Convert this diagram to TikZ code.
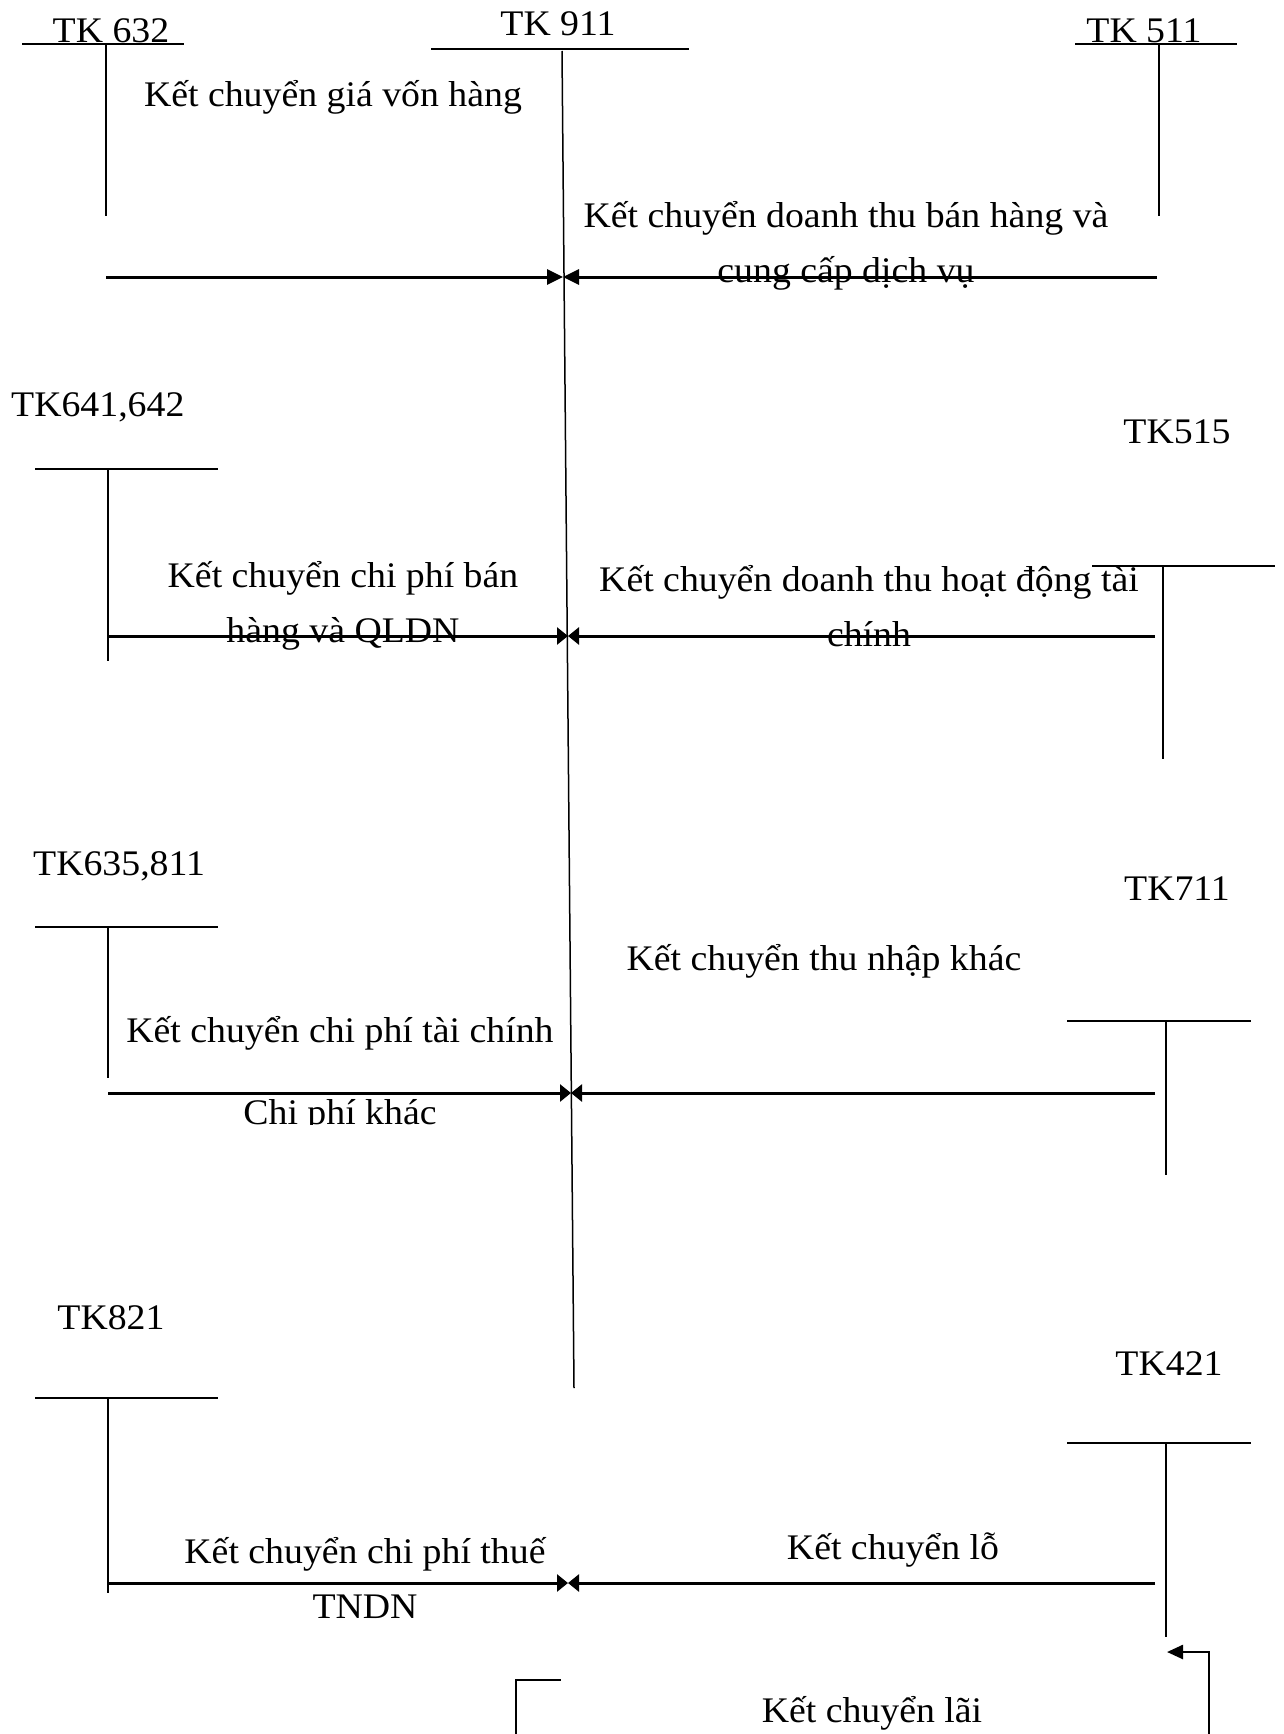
\documentclass[tikz,border=0pt]{standalone}
\usepackage{fontspec}
\setmainfont[FakeStretch=1.05]{Liberation Serif}
\usetikzlibrary{arrows.meta}
\begin{document}
\begin{tikzpicture}[x=1pt,y=-1pt,
  lbl/.style={inner sep=0pt, font=\fontsize{36}{55}\selectfont, align=center},
  acct/.style={line width=2.5pt},
  stem/.style={line width=1.5pt},
  flowbig/.style={line width=3pt,-{Triangle[length=16pt,width=15pt]}},
  flowsmall/.style={line width=3pt,-{Triangle[length=11pt,width=17pt]}},
]
\useasboundingbox[fill=white] (0,0) rectangle (1284,1734);

% ---- account T shapes ----
% TK 632
\node[lbl] (n632) at (111,31) {TK 632};
\coordinate (a632l) at (22,44); \coordinate (a632r) at (184,44);
\coordinate (s632t) at (106,44); \coordinate (s632b) at (106,216);
\draw[acct] (a632l) -- (a632r);
\draw[stem] (s632t) -- (s632b);
% TK 911
\node[lbl] (n911) at (558,24) {TK 911};
\coordinate (a911l) at (431,49); \coordinate (a911r) at (689,49);
\coordinate (s911t) at (562,51); \coordinate (s911b) at (574,1388);
\draw[acct] (a911l) -- (a911r);
\draw[stem] (s911t) -- (s911b);
% TK 511
\node[lbl] (n511) at (1144,31) {TK 511};
\coordinate (a511l) at (1075,44); \coordinate (a511r) at (1237,44);
\coordinate (s511t) at (1159,44); \coordinate (s511b) at (1159,216);
\draw[acct] (a511l) -- (a511r);
\draw[stem] (s511t) -- (s511b);
% TK641,642
\node[lbl,anchor=west] (n641) at (11,407) {TK641,642};
\coordinate (a641l) at (35,469); \coordinate (a641r) at (218,469);
\coordinate (s641t) at (108,469); \coordinate (s641b) at (108,661);
\draw[acct] (a641l) -- (a641r);
\draw[stem] (s641t) -- (s641b);
% TK515
\node[lbl] (n515) at (1177,432) {TK515};
\coordinate (a515l) at (1092,566); \coordinate (a515r) at (1275,566);
\coordinate (s515t) at (1163,566); \coordinate (s515b) at (1163,759);
\draw[acct] (a515l) -- (a515r);
\draw[stem] (s515t) -- (s515b);
% TK635,811
\node[lbl,anchor=west] (n635) at (33,866) {TK635,811};
\coordinate (a635l) at (35,927); \coordinate (a635r) at (218,927);
\coordinate (s635t) at (108,927); \coordinate (s635b) at (108,1078);
\draw[acct] (a635l) -- (a635r);
\draw[stem] (s635t) -- (s635b);
% TK711
\node[lbl] (n711) at (1177,889) {TK711};
\coordinate (a711l) at (1067,1021); \coordinate (a711r) at (1251,1021);
\coordinate (s711t) at (1166,1021); \coordinate (s711b) at (1166,1175);
\draw[acct] (a711l) -- (a711r);
\draw[stem] (s711t) -- (s711b);
% TK821
\node[lbl] (n821) at (111,1318) {TK821};
\coordinate (a821l) at (35,1398); \coordinate (a821r) at (218,1398);
\coordinate (s821t) at (108,1398); \coordinate (s821b) at (108,1593);
\draw[acct] (a821l) -- (a821r);
\draw[stem] (s821t) -- (s821b);
% TK421
\node[lbl] (n421) at (1169,1364) {TK421};
\coordinate (a421l) at (1067,1443); \coordinate (a421r) at (1251,1443);
\coordinate (s421t) at (1166,1443); \coordinate (s421b) at (1166,1637);
\draw[acct] (a421l) -- (a421r);
\draw[stem] (s421t) -- (s421b);

% ---- labels ----
\node[lbl] (t1) at (333,97) {Kết chuyển giá vốn hàng};
\node[lbl] (t2) at (846,246) {Kết chuyển doanh thu bán hàng và\\cung cấp dịch vụ};
\node[lbl] (t3) at (343,606) {Kết chuyển chi phí bán\\hàng và QLDN};
\node[lbl] (t4) at (869,606) {Kết chuyển doanh thu hoạt động tài\\chính};
\node[lbl] (t5) at (824,961) {Kết chuyển thu nhập khác};
\node[lbl] (t6) at (340,1033) {Kết chuyển chi phí tài chính};
\begin{scope}
\clip (150,1085) rectangle (520,1124);
\node[lbl] (t7) at (340,1116) {Chi phí khác};
\end{scope}
\node[lbl] (t8) at (365,1578) {Kết chuyển chi phí thuế\\TNDN};
\node[lbl] (t9) at (893,1550) {Kết chuyển lỗ};
\node[lbl] (t10) at (872,1713) {Kết chuyển lãi};

% ---- flows into TK 911 ----
\coordinate (m1) at (563,277);
\coordinate (m2) at (568,636);
\coordinate (m3) at (571,1093);
\coordinate (m4) at (568,1583);
\coordinate (l1) at (106,277); \coordinate (r1) at (1157,277);
\coordinate (l2) at (108,636); \coordinate (r2) at (1155,636);
\coordinate (l3) at (108,1093); \coordinate (r3) at (1155,1093);
\coordinate (l4) at (108,1583); \coordinate (r4) at (1155,1583);
\draw[flowbig] (l1) -- (m1);
\draw[flowbig] (r1) -- (m1);
\foreach \i in {2,3,4}{
  \draw[flowsmall] (l\i) -- (m\i);
  \draw[flowsmall] (r\i) -- (m\i);
}

% ---- profit transfer ----
\coordinate (p1) at (1209,1734); \coordinate (p2) at (1209,1652); \coordinate (p3) at (1167,1652);
\draw[line width=2.5pt,-{Triangle[length=16pt,width=14pt]}] (p1) -- (p2) -- (p3);
\coordinate (q1) at (516,1734); \coordinate (q2) at (516,1680); \coordinate (q3) at (561,1680);
\draw[line width=2.5pt] (q1) -- (q2) -- (q3);
\end{tikzpicture}
\end{document}
